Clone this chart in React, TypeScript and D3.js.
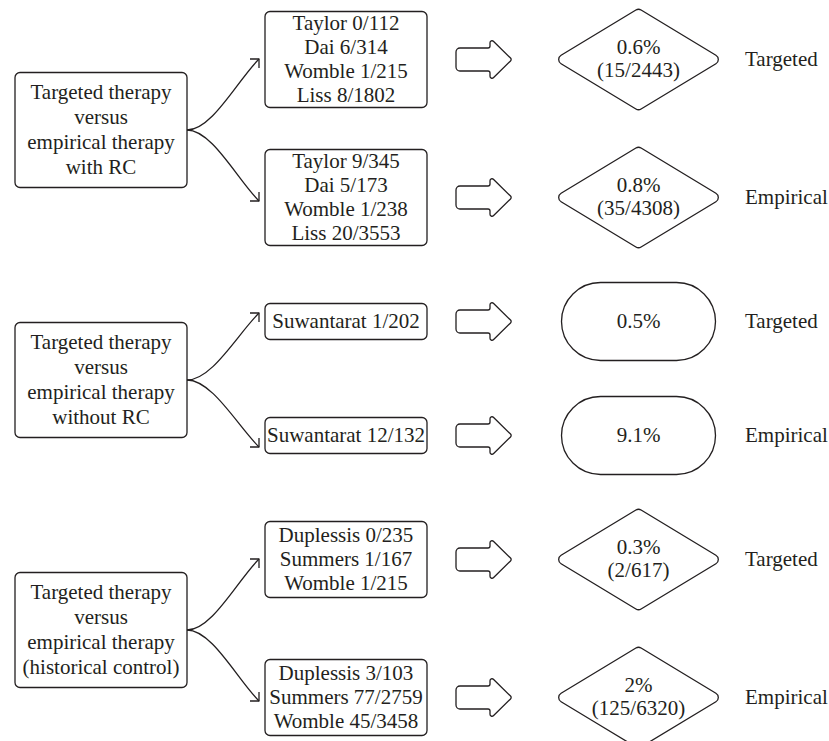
import * as d3 from "d3";

// group titles (left boxes)
const groupTitles = [
  ["Targeted therapy", "versus", "empirical therapy", "with RC"],
  ["Targeted therapy", "versus", "empirical therapy", "without RC"],
  ["Targeted therapy", "versus", "empirical therapy", "(historical control)"],
];

// study counts per arm
const targetedStudies = [
  ["Taylor 0/112", "Dai 6/314", "Womble 1/215", "Liss 8/1802"],
  ["Suwantarat 1/202"],
  ["Duplessis 0/235", "Summers 1/167", "Womble 1/215"],
];
const empiricalStudies = [
  ["Taylor 9/345", "Dai 5/173", "Womble 1/238", "Liss 20/3553"],
  ["Suwantarat 12/132"],
  ["Duplessis 3/103", "Summers 77/2759", "Womble 45/3458"],
];

// pooled results
const targetedRates = ["0.6%", "0.5%", "0.3%"];
const targetedCounts = ["(15/2443)", null, "(2/617)"];
const empiricalRates = ["0.8%", "9.1%", "2%"];
const empiricalCounts = ["(35/4308)", null, "(125/6320)"];

const armLabels = ["Targeted", "Empirical"];

const W = 829, H = 741;
const INK = "#231f20";
const FONT = "Liberation Serif, DejaVu Serif, serif";
const FS = 21;

// rounded polygon through d3.path arcTo
function roundPoly(pts: number[][], r: number[] | number) {
  const p = d3.path();
  const n = pts.length;
  const a = pts[n - 1], b = pts[0];
  p.moveTo((a[0] + b[0]) / 2, (a[1] + b[1]) / 2);
  for (let i = 0; i < n; i++) {
    const c = pts[i], d = pts[(i + 1) % n];
    const rr = Array.isArray(r) ? r[i] : r;
    p.arcTo(c[0], c[1], (c[0] + d[0]) / 2, (c[1] + d[1]) / 2, rr);
  }
  p.closePath();
  return p.toString();
}

export default function App() {
  const groups = d3.range(groupTitles.length);
  const yBand = d3.scaleBand<number>().domain(groups).range([5, 755]);

  // column layout
  const gx0 = 15, gx1 = 187;
  const sx0 = 265, sx1 = 427;
  const ax0 = 456, axNeck = 490, axTip = 512;
  const rcx = 638.5, rhw = 84.5;
  const stadW = 154;
  const labelX = 745;
  const tipX = 259;

  const stroke = { stroke: INK, strokeWidth: 1.3, fill: "none", strokeLinejoin: "round" as const };

  return (
    <svg width={W} height={H} style={{ position: "absolute", left: 0, top: 0, background: "#fff" }}
      fontFamily={FONT} fontSize={FS} fill={INK}>
      {groups.map((g) => {
        const gc = yBand(g)! + yBand.bandwidth() / 2;
        const arms = [
          { studies: targetedStudies[g], rate: targetedRates[g], count: targetedCounts[g], label: armLabels[0] },
          { studies: empiricalStudies[g], rate: empiricalRates[g], count: empiricalCounts[g], label: armLabels[1] },
        ];
        const resultH = arms[0].count ? 102 : 78;
        const off = (resultH + 36) / 2;
        const tipOff = Math.max(off + 2, 67);
        const gh = 115;
        return (
          <g key={g}>
            <rect x={gx0} y={gc - gh / 2} width={gx1 - gx0} height={gh} rx={5} {...stroke} />
            {groupTitles[g].map((t, i) => (
              <text key={i} x={(gx0 + gx1) / 2} y={gc + (i - (groupTitles[g].length - 1) / 2) * 25}
                dy="0.33em" textAnchor="middle">{t}</text>
            ))}
            {arms.map((arm, k) => {
              const s = k === 0 ? -1 : 1;
              const cy = gc - 1.5 + s * off;
              const ty = gc + s * tipOff;
              const cp = d3.path();
              cp.moveTo(gx1, gc);
              cp.bezierCurveTo(gx1 + 25, gc, tipX - 22, ty - s * 22, tipX, ty);
              const L = 9;
              const head = d3.path();
              head.moveTo(tipX - L, ty);
              head.lineTo(tipX, ty);
              head.lineTo(tipX, ty - s * L);
              const sh = arm.studies.length * 20 + 16;
              const arrowPts = [
                [ax0, cy - 11.5], [axNeck, cy - 11.5], [axNeck, cy - 21.5], [axTip, cy],
                [axNeck, cy + 21.5], [axNeck, cy + 11.5], [ax0, cy + 11.5],
              ];
              return (
                <g key={k}>
                  <path d={cp.toString()} {...stroke} />
                  <path d={head.toString()} {...stroke} />
                  <rect x={sx0} y={cy - sh / 2} width={sx1 - sx0} height={sh} rx={5} {...stroke} />
                  {arm.studies.map((t, i) => (
                    <text key={i} x={(sx0 + sx1) / 2} y={cy + (i - (arm.studies.length - 1) / 2) * 24}
                      dy="0.33em" textAnchor="middle">{t}</text>
                  ))}
                  <path d={roundPoly(arrowPts, [4, 2, 2, 2, 2, 2, 4])} {...stroke} />
                  {arm.count ? (
                    <>
                      <path d={roundPoly([[rcx - rhw, cy], [rcx, cy - resultH / 2], [rcx + rhw, cy], [rcx, cy + resultH / 2]], 5)} {...stroke} />
                      <text x={rcx} y={cy - 12} dy="0.33em" textAnchor="middle">{arm.rate}</text>
                      <text x={rcx} y={cy + 11} dy="0.33em" textAnchor="middle">{arm.count}</text>
                    </>
                  ) : (
                    <>
                      <rect x={rcx - stadW / 2} y={cy - resultH / 2} width={stadW} height={resultH} rx={resultH / 2} {...stroke} />
                      <text x={rcx} y={cy} dy="0.33em" textAnchor="middle">{arm.rate}</text>
                    </>
                  )}
                  <text x={labelX} y={cy} dy="0.33em">{arm.label}</text>
                </g>
              );
            })}
          </g>
        );
      })}
    </svg>
  );
}
